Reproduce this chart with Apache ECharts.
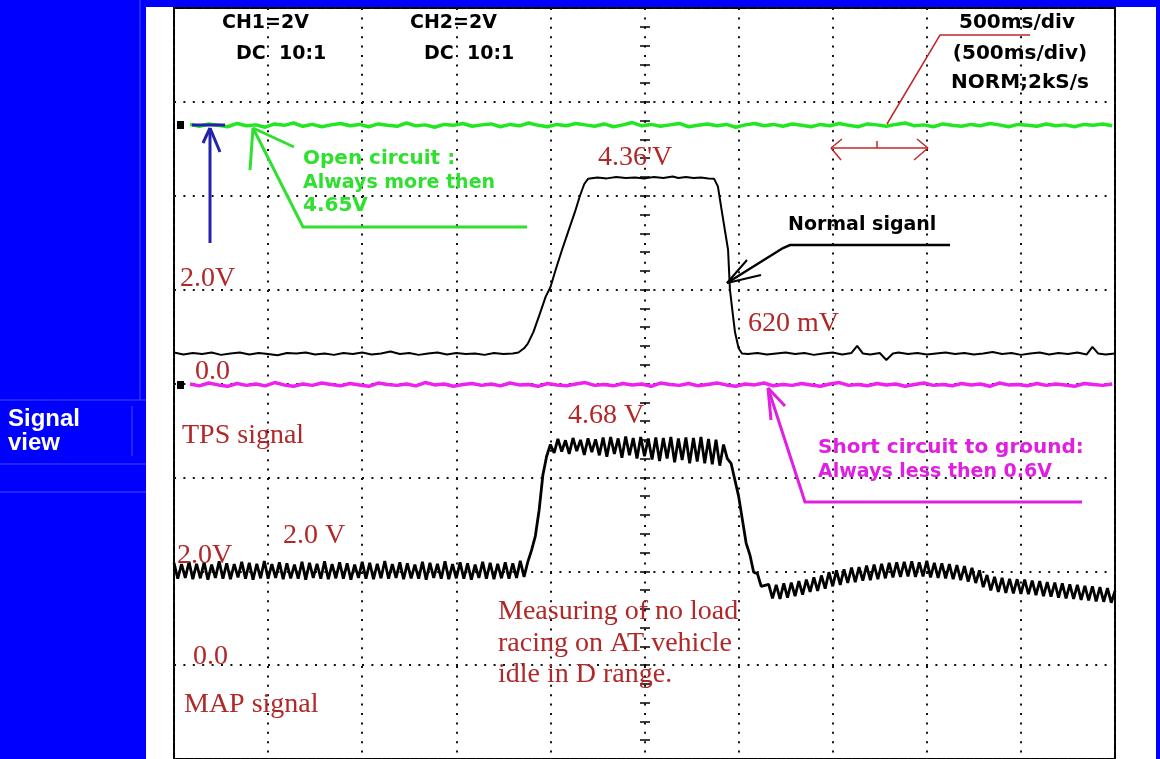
<!DOCTYPE html>
<html>
<head>
<meta charset="utf-8">
<script src="https://cdn.jsdelivr.net/npm/echarts@6/dist/echarts.min.js"></script>
<style>
html,body{margin:0;padding:0;background:#fff;}
#chart{width:1160px;height:759px;}
</style>
</head>
<body>
<div id="chart"></div>
<script>
// ---- time base (ms), 500 ms/div, 10 divisions ----
const timeTicks = [0, 500, 1000, 1500, 2000, 2500, 3000, 3500, 4000, 4500, 5000];

// ---- CH1: TPS normal signal (V), read as [time ms] / [volts] ----
const tpsTime = [0,50,100,150,200,250,300,350,400,450,500,550,600,650,700,750,800,850,900,950,1000,1050,1100,1150,1200,1250,1300,1350,1400,1450,1500,1550,1600,1650,1700,1750,1800,
  1830,1860,1880,1910,1945,1975,2000,2030,2062,2100,2130,2157,2180,2200,
  2250,2300,2350,2400,2450,2500,2550,2600,2650,2680,2720,2760,2800,2840,2870,
  2890,2912,2944,2954,2970,2981,3000,3018,
  3050,3100,3150,3200,3250,3300,3350,3400,3450,3500,3550,3600,3630,3660,3700,3750,3785,3820,3850,3900,3950,4000,4050,4100,4150,4200,4250,4300,4350,4400,4450,4500,4550,4600,4650,4700,4750,4800,4850,4880,4910,4950,5000];
const tpsVolt = [0.66,0.62,0.65,0.63,0.66,0.61,0.64,0.66,0.62,0.65,0.63,0.60,0.65,0.64,0.66,0.62,0.64,0.61,0.65,0.63,0.66,0.62,0.64,0.68,0.63,0.65,0.61,0.64,0.66,0.62,0.65,0.63,0.64,0.61,0.65,0.63,0.64,
  0.66,0.75,0.85,1.10,1.50,1.85,2.05,2.45,2.85,3.30,3.65,4.00,4.25,4.36,
  4.39,4.37,4.40,4.38,4.39,4.37,4.40,4.38,4.41,4.38,4.40,4.38,4.39,4.37,4.36,
  4.20,3.64,2.85,2.00,1.45,1.09,0.75,0.64,
  0.63,0.65,0.62,0.64,0.66,0.63,0.65,0.61,0.64,0.66,0.62,0.65,0.80,0.64,0.62,0.65,0.50,0.64,0.66,0.63,0.65,0.62,0.64,0.66,0.63,0.65,0.62,0.64,0.67,0.63,0.65,0.61,0.64,0.66,0.62,0.65,0.63,0.66,0.62,0.78,0.64,0.62,0.64];

// ---- Open circuit trace (V on CH1 scale), sampled every 50 ms from 85 ms ----
const noiseStart = 85, noiseStep = 50;
const openCircuit = [5.52,5.48,5.53,5.50,5.47,5.54,5.49,5.51,5.46,5.53,
  5.50,5.55,5.48,5.52,5.47,5.51,5.54,5.49,5.52,5.47,
  5.53,5.50,5.48,5.55,5.49,5.51,5.46,5.52,5.50,5.54,
  5.48,5.51,5.53,5.47,5.52,5.49,5.55,5.50,5.47,5.52,
  5.49,5.54,5.51,5.48,5.53,5.47,5.51,5.56,5.49,5.52,
  5.48,5.51,5.54,5.47,5.50,5.53,5.49,5.52,5.46,5.51,
  5.54,5.49,5.52,5.48,5.53,5.50,5.47,5.52,5.49,5.54,
  5.50,5.47,5.53,5.51,5.48,5.52,5.55,5.49,5.51,5.47,
  5.53,5.50,5.48,5.52,5.49,5.54,5.51,5.47,5.52,5.50,
  5.48,5.53,5.49,5.51,5.47,5.52,5.50,5.53,5.49];
// ---- Short to ground trace (V on CH1 scale) ----
const shortGround = [-0.01,-0.05,0.01,-0.03,-0.06,0.00,-0.04,-0.01,-0.05,0.02,
  -0.03,-0.06,-0.01,-0.04,0.01,-0.02,-0.05,0.00,-0.03,-0.06,
  0.01,-0.02,-0.04,-0.01,-0.05,0.02,-0.03,-0.01,-0.06,-0.02,
  0.00,-0.04,-0.01,-0.05,0.01,-0.03,-0.02,-0.06,0.00,-0.03,
  -0.05,-0.01,0.02,-0.04,-0.02,-0.05,0.00,-0.03,-0.01,-0.06,
  0.01,-0.02,-0.04,0.00,-0.05,-0.02,0.01,-0.03,-0.06,-0.01,
  -0.03,0.01,-0.05,-0.02,-0.04,0.00,-0.03,-0.06,-0.01,0.02,
  -0.04,-0.02,-0.05,0.00,-0.03,-0.01,-0.06,-0.02,0.01,-0.04,
  -0.02,-0.05,0.00,-0.03,-0.01,-0.06,0.01,-0.03,-0.02,-0.05,
  0.00,-0.04,-0.01,-0.03,-0.06,0.00,-0.02,-0.04,-0.01];

// ---- CH2: MAP signal (V), sampled every 20 ms ----
const mapStep = 20;
const mapVolt = [
  2.18,1.84,2.15,1.86,2.20,1.83,2.16,1.85,2.19,1.82,2.14,1.86,2.21,1.84,2.17,1.83,2.15,1.87,2.20,1.84,
  2.18,1.82,2.16,1.85,2.22,1.84,2.15,1.86,2.19,1.83,2.17,1.85,2.14,1.84,2.20,1.82,2.18,1.86,2.16,1.84,
  2.21,1.83,2.15,1.85,2.19,1.84,2.17,1.82,2.14,1.86,2.20,1.84,2.18,1.83,2.16,1.85,2.22,1.84,2.15,1.86,
  2.19,1.83,2.17,1.85,2.14,1.84,2.20,1.82,2.18,1.86,2.16,1.84,2.21,1.83,2.15,1.85,2.19,1.84,2.17,1.82,
  2.14,1.86,2.20,1.84,2.18,1.83,2.16,1.85,2.19,1.84,2.17,1.86,2.22,1.88,
  2.20,2.45,2.75,3.30,4.05,4.45,4.70,
  4.52,4.82,4.55,4.79,4.50,4.84,4.56,4.80,4.48,4.83,4.54,4.81,4.47,4.85,4.44,4.86,4.50,4.83,4.42,4.87,
  4.47,4.84,4.40,4.86,4.45,4.83,4.38,4.85,4.35,4.84,4.40,4.86,4.32,4.83,4.37,4.85,4.30,4.84,4.34,4.86,
  4.30,4.82,4.28,4.80,4.25,4.70,
  4.40,4.30,3.95,3.60,3.10,2.60,2.35,1.98,1.95,1.68,1.70,
  1.72,1.42,1.71,1.41,1.74,1.44,1.76,1.47,1.79,1.50,1.82,1.56,1.87,1.58,1.91,1.63,1.98,1.68,2.02,1.71,
  2.04,1.75,2.08,1.77,2.09,1.80,2.12,1.81,2.14,1.83,2.16,1.85,2.18,1.87,2.19,1.88,2.20,1.89,2.21,1.88,
  2.19,1.89,2.22,1.87,2.18,1.86,2.17,1.85,2.15,1.83,2.13,1.81,2.11,1.78,2.07,1.75,2.02,1.66,1.92,1.59,
  1.88,1.56,1.86,1.54,1.84,1.53,1.83,1.52,1.82,1.51,1.80,1.49,1.79,1.47,1.77,1.46,1.76,1.44,1.74,1.42,
  1.72,1.41,1.71,1.39,1.69,1.38,1.68,1.36,1.66,1.35,1.64,1.33,1.58];

// ---- build series data ----
const tpsData = tpsTime.map((t, i) => [t, tpsVolt[i]]);
const openData = openCircuit.map((v, i) => [noiseStart + i * noiseStep, v]);
const shortData = shortGround.map((v, i) => [noiseStart + i * noiseStep, v]);
const mapData = mapVolt.map((v, i) => [i * mapStep, v]);

const chart = echarts.init(document.getElementById('chart'), null, {renderer: 'canvas'});

const dotted = {color: '#111', width: 2, type: [2, 7.4]};
const RED = '#b02828', GREEN = '#2fe02f', MAG = '#e020e0', BLUE = '#0000fe';
const HDR = 'bold 19px "DejaVu Sans"';
const ANN = 'bold 20px "DejaVu Sans"';
const SER = '28px "Liberation Serif"';

function txt(text, x, y, font, fill, align) {
  return {type: 'text', z: 20, style: {text: text, x: x, y: y, font: font, fill: fill, align: align || 'left', verticalAlign: 'middle'}};
}
function ln(x1, y1, x2, y2, stroke, w) {
  return {type: 'line', z: 20, shape: {x1: x1, y1: y1, x2: x2, y2: y2}, style: {stroke: stroke, lineWidth: w}};
}
function pl(points, stroke, w) {
  return {type: 'polyline', z: 20, shape: {points: points}, style: {stroke: stroke, lineWidth: w, fill: null}};
}

const graphics = [
  // side panel & frame
  {type: 'rect', z: 20, shape: {x: 0, y: 0, width: 146, height: 759}, style: {fill: BLUE}},
  {type: 'rect', z: 20, shape: {x: 146, y: 0, width: 1014, height: 7}, style: {fill: BLUE}},
  {type: 'rect', z: 20, shape: {x: 1156, y: 0, width: 4, height: 759}, style: {fill: BLUE}},
  ln(140, 0, 140, 400, '#4848ff', 1),
  ln(0, 400, 146, 400, '#4848ff', 1),
  ln(132, 406, 132, 456, '#4848ff', 1),
  ln(0, 464, 146, 464, '#4848ff', 1),
  ln(0, 492, 146, 492, '#4848ff', 1),
  txt('Signal', 8, 419, 'bold 24px "Liberation Sans"', '#fff'),
  txt('view', 8, 443, 'bold 24px "Liberation Sans"', '#fff'),
  // channel markers
  {type: 'rect', z: 20, shape: {x: 177, y: 121, width: 7, height: 8}, style: {fill: '#000'}},
  {type: 'rect', z: 20, shape: {x: 177, y: 381, width: 7, height: 8}, style: {fill: '#000'}},
  // header
  txt('CH1=2V', 222, 23, HDR, '#000'),
  txt('DC  10:1', 236, 54, HDR, '#000'),
  txt('CH2=2V', 410, 23, HDR, '#000'),
  txt('DC  10:1', 424, 54, HDR, '#000'),
  txt('500ms/div', 1017, 23, ANN, '#000', 'center'),
  txt('(500ms/div)', 1020, 54, ANN, '#000', 'center'),
  txt('NORM;2kS/s', 1020, 83, ANN, '#000', 'center'),
  // time scale callout
  pl([[1030, 35], [940, 35], [887, 124]], '#c02828', 1.5),
  ln(831, 148, 928, 148, '#c02828', 1.5),
  ln(831, 148, 842, 139, '#c02828', 1.5),
  ln(831, 148, 841, 160, '#c02828', 1.5),
  ln(928, 148, 917, 139, '#c02828', 1.5),
  ln(928, 148, 914, 160, '#c02828', 1.5),
  ln(877, 141, 877, 148, '#c02828', 1.5),
  // red annotations
  txt("4.36'V", 598, 158, SER, RED),
  txt('2.0V', 180, 279, SER, RED),
  txt('0.0', 195, 372, SER, RED),
  txt('620 mV', 748, 324, SER, RED),
  txt('TPS signal', 182, 436, SER, RED),
  txt('4.68 V', 568, 416, SER, RED),
  txt('2.0 V', 283, 536, SER, RED),
  txt('2.0V', 177, 556, SER, RED),
  txt('0.0', 193, 657, SER, RED),
  txt('Measuring of no load', 498, 612, SER, RED),
  txt('racing on AT vehicle', 498, 644, SER, RED),
  txt('idle in D range.', 498, 675, SER, RED),
  txt('MAP signal', 184, 705, SER, RED),
  // open circuit callout
  txt('Open circuit :', 303, 159, ANN, GREEN),
  txt('Always more then', 303, 183, HDR, GREEN),
  txt('4.65V', 303, 206, ANN, GREEN),
  pl([[253, 128], [303, 227], [527, 227]], GREEN, 3),
  ln(253, 128, 250, 170, GREEN, 3),
  ln(253, 128, 294, 147, GREEN, 3),
  // blue arrow
  ln(210, 243, 210, 128, '#2222aa', 3),
  ln(210, 128, 203, 143, '#2222aa', 3),
  ln(210, 128, 220, 152, '#2222aa', 3),
  ln(192, 125, 225, 125, '#2222aa', 3),
  // normal signal callout
  txt('Normal siganl', 788, 225, 'bold 19px "DejaVu Sans"', '#000'),
  pl([[950, 245], [790, 245], [783, 248], [727, 283]], '#000', 2.5),
  ln(727, 283, 747, 260, '#000', 2),
  ln(727, 283, 761, 275, '#000', 2),
  // short circuit callout
  txt('Short circuit to ground:', 818, 448, ANN, MAG),
  txt('Always less then 0.6V', 818, 472, HDR, MAG),
  pl([[768, 388], [805, 502], [1082, 502]], MAG, 3),
  ln(768, 388, 785, 406, MAG, 3),
  ln(768, 388, 771, 420, MAG, 3)
];

const option = {
  animation: false,
  backgroundColor: '#fff',
  grid: {left: 174, top: 8, width: 941, height: 752, show: true, borderColor: '#000', borderWidth: 2, backgroundColor: 'transparent'},
  xAxis: {
    type: 'value', min: timeTicks[0], max: timeTicks[timeTicks.length - 1], interval: 500,
    axisLine: {show: false}, axisTick: {show: false}, axisLabel: {show: false},
    splitLine: {show: true, lineStyle: dotted}
  },
  yAxis: [
    {type: 'value', min: -8, max: 8, interval: 2, position: 'left',
      axisLine: {show: false}, axisTick: {show: false}, axisLabel: {show: false},
      splitLine: {show: true, lineStyle: dotted}},
    {type: 'value', min: -2, max: 14, interval: 2, position: 'right', show: false,
      splitLine: {show: false}},
    {type: 'value', min: -8, max: 8, interval: 0.4, position: 'left', offset: -471,
      axisLine: {show: false}, axisLabel: {show: false}, splitLine: {show: false},
      axisTick: {show: true, inside: false, length: 5, lineStyle: {color: '#000', width: 1.5}}},
    {type: 'value', min: -8, max: 8, interval: 0.4, position: 'left', offset: -471,
      axisLine: {show: false}, axisLabel: {show: false}, splitLine: {show: false},
      axisTick: {show: true, inside: true, length: 5, lineStyle: {color: '#000', width: 1.5}}}
  ],
  graphic: graphics,
  series: [
    {type: 'line', name: 'MAP', data: mapData, yAxisIndex: 1, showSymbol: false, z: 3,
      lineStyle: {color: '#000', width: 2.8}},
    {type: 'line', name: 'TPS', data: tpsData, yAxisIndex: 0, showSymbol: false, z: 3,
      lineStyle: {color: '#000', width: 2}},
    {type: 'line', name: 'Open circuit', data: openData, yAxisIndex: 0, showSymbol: false, z: 4,
      lineStyle: {color: '#22e622', width: 3.5}},
    {type: 'line', name: 'Short to ground', data: shortData, yAxisIndex: 0, showSymbol: false, z: 4,
      lineStyle: {color: '#ee22ee', width: 3.5}}
  ]
};
chart.setOption(option);
</script>
</body>
</html>
